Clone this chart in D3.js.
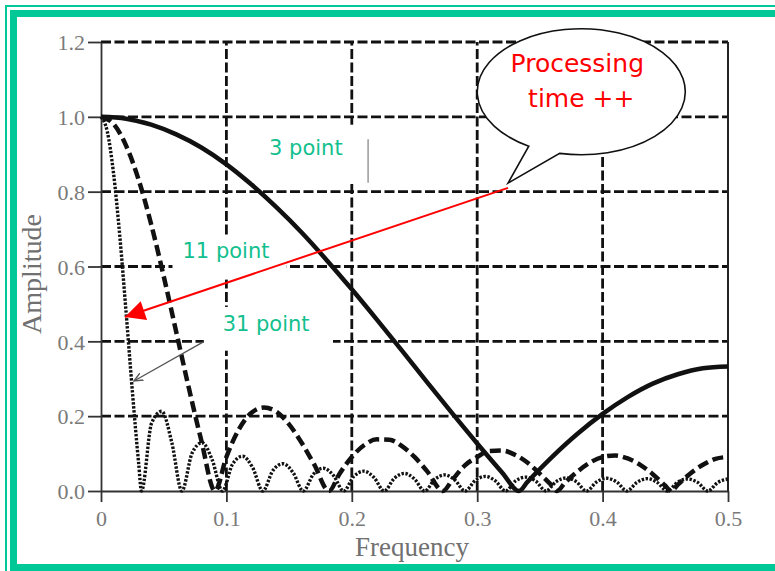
<!DOCTYPE html>
<html>
<head>
<meta charset="utf-8">
<script src="https://cdn.jsdelivr.net/npm/d3@7"></script>
<style>
  body { margin: 0; background: #fff; }
  .grid line { stroke: #111; stroke-width: 2.8; stroke-dasharray: 10,3.5; }
  .axis text { font-family: "Liberation Serif", "DejaVu Serif", serif; font-size: 22px; fill: #7a7a7a; }
  .axis line, .axis path { stroke: #333; stroke-width: 1.8; }
</style>
</head>
<body>
<div id="chart"></div>
<script>
// tick values and labels
const xTicks = [0, 0.1, 0.2, 0.3, 0.4, 0.5];
const xTickLabels = ["0", "0.1", "0.2", "0.3", "0.4", "0.5"];
const yTicks = [0, 0.2, 0.4, 0.6, 0.8, 1.0, 1.2];
const yTickLabels = ["0.0", "0.2", "0.4", "0.6", "0.8", "1.0", "1.2"];

// 3 point moving average
const freq3 = [0, 0.02, 0.04, 0.06, 0.08, 0.10, 0.12, 0.14, 0.16, 0.18, 0.20, 0.22, 0.24, 0.26, 0.28, 0.30, 0.32, 0.3333, 0.34, 0.36, 0.38, 0.40, 0.42, 0.44, 0.46, 0.48, 0.50];
const amp3 = [1, 0.995, 0.979, 0.953, 0.918, 0.873, 0.819, 0.758, 0.691, 0.617, 0.539, 0.458, 0.375, 0.291, 0.208, 0.127, 0.049, 0, 0.024, 0.092, 0.153, 0.206, 0.251, 0.287, 0.312, 0.328, 0.333];

// 11 point
const freq11 = [0, 0.01, 0.02, 0.03, 0.04, 0.05, 0.06, 0.07, 0.08, 0.0909,
  0.10, 0.11, 0.12, 0.13, 0.14, 0.15, 0.16, 0.17, 0.1818,
  0.19, 0.20, 0.21, 0.22, 0.23, 0.24, 0.25, 0.26, 0.2727,
  0.28, 0.29, 0.30, 0.31, 0.32, 0.33, 0.34, 0.35, 0.36, 0.3636,
  0.37, 0.38, 0.39, 0.40, 0.41, 0.42, 0.43, 0.44, 0.45, 0.4545,
  0.46, 0.47, 0.48, 0.49, 0.50];
const amp11 = [1, 0.981, 0.923, 0.832, 0.713, 0.574, 0.425, 0.276, 0.135, 0,
  0.091, 0.165, 0.209, 0.223, 0.212, 0.178, 0.129, 0.071, 0,
  0.045, 0.091, 0.123, 0.138, 0.137, 0.120, 0.091, 0.053, 0,
  0.029, 0.068, 0.091, 0.107, 0.108, 0.097, 0.076, 0.046, 0.013, 0,
  0.022, 0.052, 0.076, 0.091, 0.095, 0.087, 0.070, 0.045, 0.014, 0,
  0.017, 0.047, 0.070, 0.086, 0.091];

// 31 point
const freq31 = [0, 0.005, 0.01, 0.015, 0.02, 0.025, 0.03, 0.0323,
  0.0403, 0.0484, 0.0565, 0.0645,
  0.0726, 0.0806, 0.0887, 0.0968,
  0.1048, 0.1129, 0.1210, 0.1290,
  0.1371, 0.1452, 0.1532, 0.1613,
  0.1694, 0.1774, 0.1855, 0.1935,
  0.2016, 0.2097, 0.2177, 0.2258,
  0.2339, 0.2419, 0.2500, 0.2581,
  0.2661, 0.2742, 0.2823, 0.2903,
  0.2984, 0.3065, 0.3145, 0.3226,
  0.3306, 0.3387, 0.3468, 0.3548,
  0.3629, 0.3710, 0.3790, 0.3871,
  0.3952, 0.4032, 0.4113, 0.4194,
  0.4274, 0.4355, 0.4435, 0.4516,
  0.4597, 0.4677, 0.4758, 0.4839,
  0.4919, 0.5];
const amp31 = [1, 0.961, 0.849, 0.681, 0.478, 0.267, 0.075, 0,
  0.181, 0.213, 0.129, 0,
  0.101, 0.129, 0.083, 0,
  0.071, 0.093, 0.062, 0,
  0.055, 0.073, 0.049, 0,
  0.045, 0.061, 0.041, 0,
  0.039, 0.053, 0.036, 0,
  0.034, 0.047, 0.032, 0,
  0.031, 0.043, 0.029, 0,
  0.028, 0.039, 0.027, 0,
  0.027, 0.037, 0.026, 0,
  0.025, 0.035, 0.025, 0,
  0.024, 0.034, 0.024, 0,
  0.023, 0.033, 0.023, 0,
  0.023, 0.032, 0.023, 0,
  0.023, 0.032];

const width = 775, height = 571;
const green = "#00c896";

const svg = d3.select("#chart").append("svg")
    .attr("width", width)
    .attr("height", height)
    .style("display", "block");

svg.append("rect").attr("width", width).attr("height", height).attr("fill", "#fff");

// green slide frame
svg.append("path")
    .attr("d", "M6," + height + "V6H" + width)
    .attr("fill", "none").attr("stroke", green).attr("stroke-width", 2);
svg.append("rect")
    .attr("x", 13.5).attr("y", 13.5)
    .attr("width", width + 20).attr("height", 554)
    .attr("fill", "none").attr("stroke", green).attr("stroke-width", 7);

let x = d3.scaleLinear().domain([0, 0.5]).range([101, 728]);
let y = d3.scaleLinear().domain([0, 1.2]).range([491, 42]);

// gridlines
svg.append("g")
    .attr("class", "grid")
    .selectAll("line")
    .data(yTicks.slice(1))
    .join("line")
    .attr("x1", x(0)).attr("x2", x(0.5))
    .attr("y1", d => y(d)).attr("y2", d => y(d));

svg.append("g")
    .attr("class", "grid")
    .selectAll("line")
    .data(xTicks.slice(1, -1))
    .join("line")
    .attr("x1", d => x(d)).attr("x2", d => x(d))
    .attr("y1", y(0)).attr("y2", y(1.2));

// right edge of the frame
svg.append("line")
    .attr("x1", x(0.5)).attr("x2", x(0.5))
    .attr("y1", y(0)).attr("y2", y(1.2))
    .attr("stroke", "#222").attr("stroke-width", 2);

// axes
svg.append("g")
    .attr("class", "axis")
    .attr("transform", "translate(0," + y(0) + ")")
    .call(d3.axisBottom(x).tickValues(xTicks).tickSize(11).tickSizeOuter(0)
      .tickFormat((d, i) => xTickLabels[i]))
    .call(g => g.selectAll("text").attr("y", 19).attr("dy", "0.71em"));

svg.append("g")
    .attr("class", "axis")
    .attr("transform", "translate(" + x(0) + ",0)")
    .call(d3.axisLeft(y).tickValues(yTicks).tickSize(13).tickSizeOuter(0)
      .tickFormat((d, i) => yTickLabels[i]))
    .call(g => g.selectAll("text").attr("x", -16).attr("dy", "0.35em"));

// axis titles
svg.append("text")
    .attr("x", 412).attr("y", 556)
    .attr("text-anchor", "middle")
    .style("font-family", "'Liberation Serif', serif")
    .style("font-size", "27px").style("fill", "#707070")
    .text("Frequency");

svg.append("text")
    .attr("transform", "translate(41,274)rotate(-90)")
    .attr("text-anchor", "middle")
    .style("font-family", "'Liberation Serif', serif")
    .style("font-size", "28px").style("fill", "#707070")
    .text("Amplitude");

// response curves
const line = d3.line()
    .x(d => x(d[0]))
    .y(d => y(d[1]))
    .curve(d3.curveMonotoneX);

svg.append("path")
    .datum(d3.zip(freq31, amp31))
    .attr("fill", "none").attr("stroke", "#111").attr("stroke-width", 3.4)
    .attr("stroke-dasharray", "2.4,1.6")
    .attr("d", line);

svg.append("path")
    .datum(d3.zip(freq11, amp11))
    .attr("fill", "none").attr("stroke", "#111").attr("stroke-width", 4.5)
    .attr("stroke-dasharray", "11,5")
    .attr("d", line);

svg.append("path")
    .datum(d3.zip(freq3, amp3))
    .attr("fill", "none").attr("stroke", "#111").attr("stroke-width", 4.5)
    .attr("d", line);

// label boxes
function labelBox(f0, f1, a0, a1, label, tx, ty) {
  svg.append("rect")
      .attr("x", x(f0)).attr("y", y(a0))
      .attr("width", x(f1) - x(f0)).attr("height", y(a1) - y(a0))
      .attr("fill", "#fff");
  svg.append("text")
      .attr("x", x(tx)).attr("y", y(ty))
      .style("font-family", "'DejaVu Sans', Verdana, sans-serif")
      .style("font-size", "21px").style("fill", "#12c08e")
      .text(label);
}
labelBox(0.121, 0.212, 0.979, 0.824, "3 point", 0.134, 0.898);
svg.append("line")
    .attr("x1", x(0.213)).attr("x2", x(0.213))
    .attr("y1", y(0.94)).attr("y2", y(0.824))
    .attr("stroke", "#999").attr("stroke-width", 1.5);
labelBox(0.057, 0.148, 0.68, 0.565, "11 point", 0.065, 0.623);
labelBox(0.082, 0.185, 0.492, 0.375, "31 point", 0.097, 0.428);

// small grey pointer for the 31 point curve
svg.append("defs").append("marker")
    .attr("id", "open")
    .attr("viewBox", "0 0 10 10").attr("refX", 9).attr("refY", 5)
    .attr("markerWidth", 10).attr("markerHeight", 10)
    .attr("markerUnits", "userSpaceOnUse")
    .attr("orient", "auto")
  .append("path")
    .attr("d", "M0,1L9,5L0,9")
    .attr("fill", "none").attr("stroke", "#555").attr("stroke-width", 1.4);

svg.append("line")
    .attr("x1", x(0.0813)).attr("y1", y(0.398))
    .attr("x2", x(0.0263)).attr("y2", y(0.294))
    .attr("stroke", "#555").attr("stroke-width", 1.3)
    .attr("marker-end", "url(#open)");

// red arrow
svg.select("defs").append("marker")
    .attr("id", "red")
    .attr("viewBox", "0 0 10 10").attr("refX", 10).attr("refY", 5)
    .attr("markerWidth", 26).attr("markerHeight", 20)
    .attr("markerUnits", "userSpaceOnUse")
    .attr("orient", "auto")
  .append("path")
    .attr("d", "M0,0L10,5L0,10Z")
    .attr("fill", "red");

svg.append("line")
    .attr("x1", x(0.3246)).attr("y1", y(0.81))
    .attr("x2", x(0.0191)).attr("y2", y(0.465))
    .attr("stroke", "red").attr("stroke-width", 2)
    .attr("marker-end", "url(#red)");

// speech bubble
const cx = x(0.383), cy = y(1.067), rx = 104, ry = 63;
const tip = [x(0.3246), y(0.823)];
const a1 = 2.1, a2 = 1.78; // tail base angles on the ellipse
svg.append("path")
    .attr("d", "M" + (cx + rx * Math.cos(a1)) + "," + (cy + ry * Math.sin(a1)) +
      "A" + rx + " " + ry + " 0 1 1 " + (cx + rx * Math.cos(a2)) + "," + (cy + ry * Math.sin(a2)) +
      "L" + tip[0] + "," + tip[1] + "Z")
    .attr("fill", "#fff").attr("stroke", "#111").attr("stroke-width", 1.6);

svg.append("text")
    .attr("x", cx - 4).attr("y", cy - 20)
    .attr("text-anchor", "middle")
    .style("font-family", "'DejaVu Sans', Verdana, sans-serif")
    .style("font-size", "25px").style("fill", "red")
    .text("Processing");
svg.append("text")
    .attr("x", cx).attr("y", cy + 15)
    .attr("text-anchor", "middle")
    .style("font-family", "'DejaVu Sans', Verdana, sans-serif")
    .style("font-size", "25px").style("fill", "red")
    .text("time ++");
</script>
</body>
</html>
